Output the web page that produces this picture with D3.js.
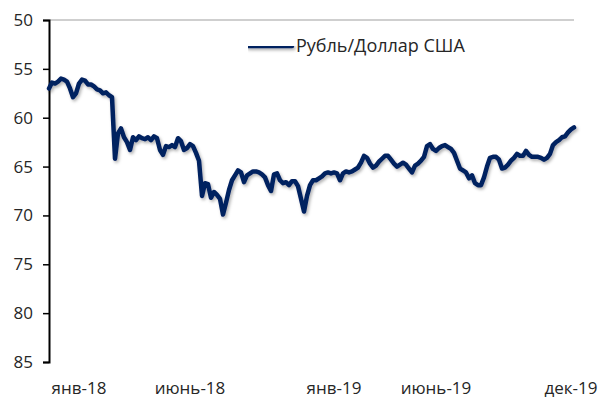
<!DOCTYPE html>
<html>
<head>
<meta charset="utf-8">
<script src="https://cdn.jsdelivr.net/npm/d3@7"></script>
<style>
  body { margin: 0; background: #fff; }
  text { font-family: "Open Sans", "Noto Sans", sans-serif; fill: #262626; }
</style>
</head>
<body>
<div id="chart"></div>
<script>
// RUB per USD, trading-day sample (inverted axis)
var rubUsd = [
  57.0, 56.4, 56.5, 56.3, 56.0, 56.1, 56.3, 57.0, 57.9, 57.5, 56.5, 56.1, 56.2, 56.6, 56.6, 56.8,
  57.1, 57.2, 57.5, 57.4, 57.7, 57.9, 64.2, 61.6, 61.1, 62.0, 62.5, 63.3, 62.0, 62.3, 61.9, 62.1,
  62.2, 62.0, 62.3, 61.9, 62.1, 63.3, 63.8, 62.9, 63.0, 62.8, 63.0, 62.1, 62.4, 63.3, 63.1, 62.7,
  62.9, 63.6, 64.4, 68.0, 66.7, 66.8, 68.2, 67.6, 67.9, 68.3, 69.9, 68.7, 67.4, 66.4, 65.9, 65.4,
  65.6, 66.6, 65.9, 65.7, 65.5, 65.5, 65.6, 65.8, 66.1, 66.9, 67.5, 65.8, 65.7, 66.4, 66.7, 66.6,
  66.9, 66.5, 66.5, 67.0, 68.3, 69.6, 68.0, 66.9, 66.4, 66.4, 66.2, 66.0, 65.7, 65.6, 65.7, 65.6,
  65.7, 66.4, 65.7, 65.5, 65.6, 65.5, 65.3, 65.1, 64.6, 63.9, 64.1, 64.7, 65.1, 64.9, 64.5, 64.2,
  63.9, 63.9, 64.3, 64.7, 65.0, 64.8, 64.6, 64.8, 65.2, 65.6, 64.9, 64.7, 64.4, 64.0, 62.9, 62.7,
  63.2, 63.4, 63.1, 62.9, 62.8, 63.0, 63.2, 63.6, 64.4, 65.2, 65.4, 65.6, 66.2, 65.9, 66.7, 66.9,
  66.9, 66.1, 65.0, 64.1, 64.0, 64.0, 64.3, 65.2, 65.1, 64.8, 64.4, 64.1, 63.7, 63.9, 63.9, 63.4,
  63.8, 64.0, 64.0, 64.0, 64.1, 64.3, 64.1, 63.7, 62.8, 62.5, 62.3, 62.0, 61.9, 61.5, 61.2, 61.0
];
var seriesName = "Рубль/Доллар США";
var yTicks = [50, 55, 60, 65, 70, 75, 80, 85];
var xTickLabels = ["янв-18", "июнь-18", "янв-19", "июнь-19", "дек-19"];
var xTickIndex = [10, 47, 95, 129, 174];

var W = 611, H = 400;
var margin = {top: 20, right: 37, bottom: 38, left: 49};

var svg = d3.select("#chart").append("svg")
    .attr("width", W)
    .attr("height", H);

// soft Excel-like shadow under the line
var defs = svg.append("defs");
var shadow = defs.append("filter")
    .attr("id", "shadow")
    .attr("filterUnits", "userSpaceOnUse")
    .attr("x", 0).attr("y", 0)
    .attr("width", W).attr("height", H);
shadow.append("feDropShadow")
    .attr("dx", 1.5).attr("dy", 2)
    .attr("stdDeviation", 1.5)
    .attr("flood-color", "#000")
    .attr("flood-opacity", 0.3);

var x = d3.scaleLinear()
    .domain([0, rubUsd.length - 1])
    .range([margin.left, W - margin.right]);

var y = d3.scaleLinear()
    .domain([50, 85])
    .range([margin.top, H - margin.bottom]);

// top gridline at 50
svg.append("line")
    .attr("x1", x(0)).attr("x2", x(rubUsd.length - 1))
    .attr("y1", y(50)).attr("y2", y(50))
    .attr("stroke", "#bfbfbf")
    .attr("stroke-width", 1.5);

// y axis
var yAxis = svg.append("g")
    .attr("transform", "translate(" + margin.left + ",0)")
    .call(d3.axisLeft(y).tickValues(yTicks).tickSize(6).tickPadding(10));
yAxis.select(".domain").attr("stroke", "#000").attr("stroke-width", 2);
yAxis.selectAll(".tick line").attr("stroke", "#000").attr("stroke-width", 1.5);
yAxis.selectAll(".tick text")
    .style("font-size", "17px")
    .style("font-family", "'Open Sans', 'Noto Sans', sans-serif")
    .attr("fill", "#262626");

// x labels (category-style)
svg.append("g").selectAll("text")
    .data(xTickIndex)
  .enter().append("text")
    .attr("x", function(d) { return x(d); })
    .attr("y", 394)
    .attr("text-anchor", "middle")
    .style("font-size", "17px")
    .text(function(d, i) { return xTickLabels[i]; });

// the line
var line = d3.line()
    .x(function(d, i) { return x(i); })
    .y(function(d) { return y(d); });

svg.append("path")
    .datum(rubUsd)
    .attr("d", line)
    .attr("fill", "none")
    .attr("stroke", "#002060")
    .attr("stroke-width", 4.5)
    .attr("stroke-linejoin", "round")
    .attr("stroke-linecap", "round")
    .attr("filter", "url(#shadow)");

// legend
var legend = svg.append("g").attr("transform", "translate(248,46)");
legend.append("line")
    .attr("x1", 0).attr("x2", 44)
    .attr("y1", 0).attr("y2", 0)
    .attr("stroke", "#002060")
    .attr("stroke-width", 4.5)
    .attr("stroke-linecap", "round")
    .attr("filter", "url(#shadow)");
legend.append("text")
    .attr("x", 48)
    .attr("y", 6)
    .style("font-size", "18px")
    .text(seriesName);
</script>
</body>
</html>
